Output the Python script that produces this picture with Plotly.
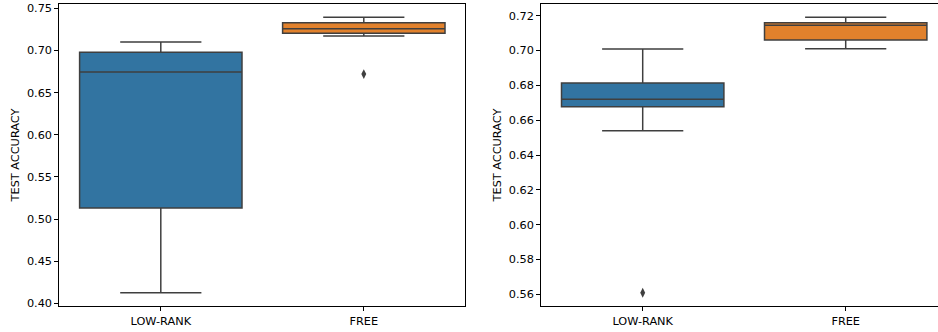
import plotly.graph_objects as go

categories = ["LOW-RANK", "FREE"]

# left panel stats: [lowerfence, q1, median, q3, upperfence]
left_lowerfence = [0.4126, 0.7171]
left_q1 = [0.5131, 0.7203]
left_median = [0.6744, 0.7258]
left_q3 = [0.6978, 0.7329]
left_upperfence = [0.7100, 0.7393]
left_outlier_cat = ["FREE"]
left_outlier_val = [0.6720]

right_lowerfence = [0.6539, 0.7010]
right_q1 = [0.6677, 0.7060]
right_median = [0.6720, 0.7145]
right_q3 = [0.6813, 0.7160]
right_upperfence = [0.7009, 0.7191]
right_outlier_cat = ["LOW-RANK"]
right_outlier_val = [0.5609]

colors = ["#3274a1", "#e1812c"]
line_col = "#3f3f3f"

fig = go.Figure()

def add_panel(lf, q1, med, q3, uf, ocat, oval, xa, ya):
    for i, c in enumerate(categories):
        fig.add_trace(go.Box(
            x=[c], q1=[q1[i]], median=[med[i]], q3=[q3[i]],
            lowerfence=[lf[i]], upperfence=[uf[i]],
            fillcolor=colors[i], line=dict(color=line_col, width=1.5),
            width=0.8, whiskerwidth=0.5, boxpoints=False,
            xaxis=xa, yaxis=ya, showlegend=False, hoverinfo="skip"))
    fig.add_trace(go.Scatter(
        x=ocat, y=oval, mode="markers",
        marker=dict(symbol="diamond-tall", size=7, color=line_col),
        xaxis=xa, yaxis=ya, showlegend=False))

add_panel(left_lowerfence, left_q1, left_median, left_q3, left_upperfence,
          left_outlier_cat, left_outlier_val, "x", "y")
add_panel(right_lowerfence, right_q1, right_median, right_q3, right_upperfence,
          right_outlier_cat, right_outlier_val, "x2", "y2")

W, H = 938, 332
font = dict(family="DejaVu Sans", size=11.3, color="black")
ax_common = dict(showline=True, linecolor="black", linewidth=1, ticks="outside",
                 ticklen=4, tickcolor="black", showgrid=False, zeroline=False,
                 tickfont=font)

fig.update_layout(
    width=W, height=H,
    margin=dict(l=0, r=0, t=4, b=26),
    paper_bgcolor="white", plot_bgcolor="white",
    font=font,
    xaxis=dict(domain=[59.3 / W, 465.3 / W], type="category",
               categoryorder="array", categoryarray=categories,
               range=[-0.5, 1.5], mirror=True, **ax_common),
    yaxis=dict(range=[0.3968, 0.7551], tickvals=[0.40, 0.45, 0.50, 0.55, 0.60, 0.65, 0.70, 0.75],
               ticktext=["0.40", "0.45", "0.50", "0.55", "0.60", "0.65", "0.70", "0.75"],
               mirror=True,
               title=dict(text="TEST ACCURACY", font=font, standoff=4), **ax_common),
    xaxis2=dict(domain=[541.2 / W, 1.0], type="category", anchor="y2",
                categoryorder="array", categoryarray=categories,
                range=[-0.5, 1.5 - 9.2 / 203], mirror=True, **ax_common),
    yaxis2=dict(range=[0.5533, 0.7267], anchor="x2",
                tickvals=[0.56, 0.58, 0.60, 0.62, 0.64, 0.66, 0.68, 0.70, 0.72],
                ticktext=["0.56", "0.58", "0.60", "0.62", "0.64", "0.66", "0.68", "0.70", "0.72"],
                mirror=False,
                title=dict(text="TEST ACCURACY", font=font, standoff=4), **ax_common),
)

fig.write_html("out.html", post_script="document.body.style.margin='0';",
               config={"displayModeBar": False})
